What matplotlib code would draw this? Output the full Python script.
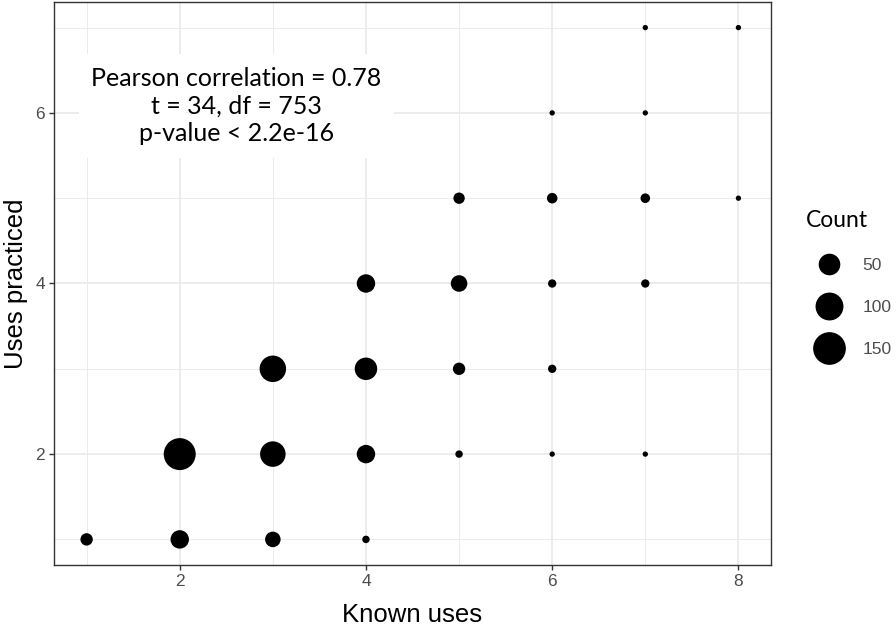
import numpy as np
import matplotlib.pyplot as plt
from matplotlib.lines import Line2D

# counts of respondents per (known uses, uses practiced) pair
known = [1, 2, 3, 4,
         2, 3, 4, 5, 6, 7,
         3, 4, 5, 6,
         4, 5, 6, 7,
         5, 6, 7, 8,
         6, 7,
         7, 8]
practiced = [1, 1, 1, 1,
             2, 2, 2, 2, 2, 2,
             3, 3, 3, 3,
             4, 4, 4, 4,
             5, 5, 5, 5,
             6, 6,
             7, 7]
count = [12, 39, 24, 2,
         158, 91, 39, 2, 1, 1,
         100, 66, 12, 3,
         39, 29, 3, 3,
         9, 7, 5, 1,
         1, 1,
         1, 1]
legend_breaks = [50, 100, 150]

DPI = 100
cmin, cmax = min(count), max(count)

lab_font = ['Liberation Sans', 'DejaVu Sans']
plt.rcParams['font.family'] = lab_font


def diam_pt(c):
    # ggplot-like area scale, range 1..6 "mm"
    c = np.asarray(c, dtype=float)
    px = 5.33 * (1 + 5 * np.sqrt(np.clip((c - cmin) / (cmax - cmin), 0, None)))
    return px * 72 / DPI


fig = plt.figure(figsize=(8.96, 6.27), dpi=DPI)
ax = fig.add_axes([0.0603, 0.0989, 0.8002, 0.8979])

ax.scatter(known, practiced, s=diam_pt(count) ** 2, color='black', linewidths=0, zorder=3)

ax.set_xlim(0.65, 8.35)
ax.set_ylim(0.7, 7.3)
ax.set_xticks([2, 4, 6, 8])
ax.set_yticks([2, 4, 6])
ax.set_xticks([1, 3, 5, 7], minor=True)
ax.set_yticks([1, 3, 5, 7], minor=True)
ax.grid(which='major', color='#EBEBEB', linewidth=1.3, zorder=0)
ax.grid(which='minor', color='#EBEBEB', linewidth=0.7, zorder=0)
ax.set_axisbelow(True)
ax.tick_params(which='major', length=3.5, width=1.0, color='#333333',
               labelsize=12.5, labelcolor='#4D4D4D', pad=3)
ax.tick_params(which='minor', length=0)
for sp in ax.spines.values():
    sp.set_color('#333333')
    sp.set_linewidth(1.0)

ax.set_xlabel('Known uses', fontsize=18.5, labelpad=10)
ax.set_ylabel('Uses practiced', fontsize=18.5, labelpad=5)

ax.text(2.61, 6.08, 'Pearson correlation = 0.78\nt = 34, df = 753\np-value < 2.2e-16',
        ha='center', va='center', fontsize=18, family=['Lato', 'DejaVu Sans'],
        linespacing=1.25, zorder=4,
        bbox=dict(facecolor='white', edgecolor='none', boxstyle='square,pad=0.5'))

handles = [Line2D([], [], marker='o', linestyle='none', color='black',
                  markersize=float(diam_pt(b))) for b in legend_breaks]
leg = fig.legend(handles, [str(b) for b in legend_breaks], title='Count',
                 loc='upper left', bbox_to_anchor=(0.892, 0.676), frameon=False,
                 labelspacing=1.55, handlelength=2.63, handletextpad=0.6,
                 borderaxespad=0, prop={'family': lab_font, 'size': 12.5})
leg.get_title().set_fontsize(16.5)
leg.get_title().set_family(['Lato', 'DejaVu Sans'])
leg._legend_box.align = 'left'
for t in leg.get_texts():
    t.set_color('#4D4D4D')

fig.savefig('out.png', dpi=DPI)
